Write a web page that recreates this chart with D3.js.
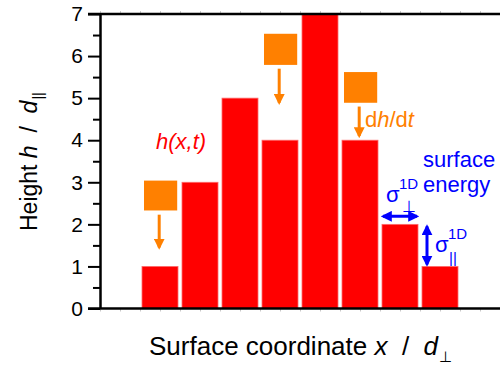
<!DOCTYPE html>
<html>
<head>
<meta charset="utf-8">
<script src="https://cdn.jsdelivr.net/npm/d3@7"></script>
<style>
  body { margin: 0; background: #fff; }
  text { font-family: "Liberation Sans", Arial, sans-serif; }
</style>
</head>
<body>
<div id="chart"></div>
<script>
// --------------------------------------
//  Data
// --------------------------------------

const positions = [1, 2, 3, 4, 5, 6, 7, 8];   // surface coordinate x (left edge of column)
const heights = [1, 3, 5, 4, 7, 4, 2, 1];     // height h
const yTicks = [0, 1, 2, 3, 4, 5, 6, 7];

// deposited blocks (orange) above columns 1, 4 and 6
const blockCols = [1, 4, 6];
const blockTops = [3.04, 6.53, 5.62];
const blockBottoms = [2.33, 5.79, 4.89];
const arrowFrom = [2.23, 5.70, 4.80];
const arrowTo = [1.45, 4.89, 4.10];

// --------------------------------------
//  Margin and canvas
// --------------------------------------

const width = 500;
const height = 367;
const margin = {top: 14, right: 0, bottom: 58, left: 100};

const svg = d3.select("#chart")
  .append("svg")
    .attr("width", width)
    .attr("height", height);

const x = d3.scaleLinear()
    .domain([0, 10])
    .range([margin.left, width - margin.right]);

const y = d3.scaleLinear()
    .domain([0, 7])
    .range([height - margin.bottom - 0.5, margin.top]);

const red = "#ff0000";
const orange = "#ff8000";
const blue = "#0000ff";

// --------------------------------------
//  Markers
// --------------------------------------

const defs = svg.append("defs");
function marker(id, color, size) {
  defs.append("marker")
      .attr("id", id)
      .attr("viewBox", "0 0 10 10")
      .attr("refX", 8)
      .attr("refY", 5)
      .attr("markerUnits", "userSpaceOnUse")
      .attr("markerWidth", size)
      .attr("markerHeight", size)
      .attr("orient", "auto-start-reverse")
    .append("path")
      .attr("d", "M0,0 L10,5 L0,10 Z")
      .attr("fill", color);
}
marker("headOrange", orange, 11);
marker("headBlue", blue, 11);

// --------------------------------------
//  Bars
// --------------------------------------

const bars = positions.map((p, i) => ({x: p, h: heights[i]}));

svg.selectAll(".bar")
  .data(bars)
  .join("rect")
    .attr("class", "bar")
    .attr("x", d => x(d.x) + 2)
    .attr("width", d => x(d.x + 1) - x(d.x) - 4)
    .attr("y", d => y(d.h))
    .attr("height", d => y(0) - y(d.h))
    .attr("fill", red)
    .attr("stroke", "#ff6a6a")
    .attr("stroke-width", 0.8);

// --------------------------------------
//  Axes
// --------------------------------------

// faint x ticks (top and bottom)
const xMinor = d3.range(0, 10.01, 0.5);
svg.append("g")
    .attr("transform", `translate(0, ${y(0)})`)
    .call(d3.axisBottom(x).tickValues(xMinor).tickSize(3).tickFormat(""))
    .call(g => g.select(".domain").remove())
    .call(g => g.selectAll("line").attr("stroke", "#c8c8c8"));
svg.append("g")
    .attr("transform", `translate(0, ${y(7)})`)
    .call(d3.axisTop(x).tickValues(xMinor).tickSize(3).tickFormat(""))
    .call(g => g.select(".domain").remove())
    .call(g => g.selectAll("line").attr("stroke", "#c8c8c8"));

svg.append("line")
    .attr("x1", x(0) - 12).attr("x2", width)
    .attr("y1", y(0)).attr("y2", y(0))
    .attr("stroke", "#000").attr("stroke-width", 2.5);
svg.append("line")
    .attr("x1", x(0) - 12).attr("x2", width)
    .attr("y1", y(7)).attr("y2", y(7))
    .attr("stroke", "#000").attr("stroke-width", 2.5);

// minor y ticks
svg.append("g")
    .attr("transform", `translate(${x(0)}, 0)`)
    .call(d3.axisLeft(y).tickValues(d3.range(0.5, 7, 1)).tickSize(7).tickFormat(""))
    .call(g => g.select(".domain").remove())
    .call(g => g.selectAll("line").attr("stroke-width", 2));

const yAxis = svg.append("g")
    .attr("transform", `translate(${x(0)}, 0)`)
    .call(d3.axisLeft(y)
          .tickValues(yTicks)
          .tickSize(12)
          .tickPadding(5)
          .tickFormat(d3.format("d"))
          .tickSizeOuter(0));
yAxis.select(".domain").attr("stroke-width", 2.5);
yAxis.selectAll("line").attr("stroke-width", 2);
yAxis.selectAll("text")
    .attr("font-size", 21)
    .attr("font-family", "Liberation Sans, Arial, sans-serif")
    .attr("fill", "#000");

// --------------------------------------
//  Axis titles
// --------------------------------------

const yTitle = svg.append("text")
    .attr("transform", `translate(37, 231) rotate(-90)`)
    .attr("font-size", 23)
    .attr("fill", "#000");
yTitle.append("tspan").text("Height ");
yTitle.append("tspan").attr("font-style", "italic").text("h");
yTitle.append("tspan").attr("xml:space", "preserve").text("  /  ");
yTitle.append("tspan").attr("font-style", "italic").text("d");
yTitle.append("tspan").attr("font-size", 14).attr("dy", 6).attr("dx", 1).text("||");

const xTitle = svg.append("text")
    .attr("x", 149)
    .attr("y", 355)
    .attr("font-size", 26)
    .attr("fill", "#000");
xTitle.append("tspan").text("Surface coordinate ");
xTitle.append("tspan").attr("font-style", "italic").text("x");
xTitle.append("tspan").attr("xml:space", "preserve").text("  /  ");
xTitle.append("tspan").attr("font-style", "italic").text("d");
xTitle.append("tspan").attr("font-size", 15).attr("dy", 7).attr("dx", 1).text("⊥");

// --------------------------------------
//  Deposited blocks and arrows
// --------------------------------------

const blocks = blockCols.map((c, i) => ({
  c: c, top: blockTops[i], bottom: blockBottoms[i], from: arrowFrom[i], to: arrowTo[i]
}));

svg.selectAll(".block")
  .data(blocks)
  .join("rect")
    .attr("class", "block")
    .attr("x", d => x(d.c + 0.1))
    .attr("width", d => x(d.c + 0.93) - x(d.c + 0.1))
    .attr("y", d => y(d.top))
    .attr("height", d => y(d.bottom) - y(d.top))
    .attr("fill", orange);

svg.selectAll(".drop")
  .data(blocks)
  .join("line")
    .attr("class", "drop")
    .attr("x1", d => x(d.c + 0.48))
    .attr("x2", d => x(d.c + 0.48))
    .attr("y1", d => y(d.from))
    .attr("y2", d => y(d.to))
    .attr("stroke", orange)
    .attr("stroke-width", 3)
    .attr("marker-end", "url(#headOrange)");

// --------------------------------------
//  Labels
// --------------------------------------

svg.append("text")
    .attr("x", 156).attr("y", 149)
    .attr("font-size", 22)
    .attr("font-style", "italic")
    .attr("fill", red)
    .text("h(x,t)");

const dhdt = svg.append("text")
    .attr("x", 365).attr("y", 127)
    .attr("font-size", 22)
    .attr("fill", orange);
dhdt.append("tspan").text("d");
dhdt.append("tspan").attr("font-style", "italic").text("h");
dhdt.append("tspan").text("/d");
dhdt.append("tspan").attr("font-style", "italic").text("t");

svg.append("text")
    .attr("x", 423).attr("y", 167)
    .attr("font-size", 22)
    .attr("fill", blue)
    .text("surface");
svg.append("text")
    .attr("x", 423).attr("y", 192)
    .attr("font-size", 22)
    .attr("fill", blue)
    .text("energy");

// sigma perpendicular
svg.append("text")
    .attr("x", 386).attr("y", 202)
    .attr("font-size", 22)
    .attr("fill", blue)
    .text("σ");
svg.append("text")
    .attr("x", 399).attr("y", 189)
    .attr("font-size", 15)
    .attr("fill", blue)
    .text("1D");
svg.append("text")
    .attr("x", 402).attr("y", 212)
    .attr("font-size", 16)
    .attr("fill", blue)
    .text("⊥");

svg.append("line")
    .attr("x1", x(7) + 3).attr("x2", x(8) - 3)
    .attr("y1", y(2) - 8).attr("y2", y(2) - 8)
    .attr("stroke", blue).attr("stroke-width", 3)
    .attr("marker-start", "url(#headBlue)")
    .attr("marker-end", "url(#headBlue)");

// sigma parallel
svg.append("text")
    .attr("x", 435).attr("y", 252)
    .attr("font-size", 22)
    .attr("fill", blue)
    .text("σ");
svg.append("text")
    .attr("x", 448).attr("y", 239)
    .attr("font-size", 15)
    .attr("fill", blue)
    .text("1D");
svg.append("text")
    .attr("x", 449).attr("y", 263)
    .attr("font-size", 15)
    .attr("fill", blue)
    .text("||");

svg.append("line")
    .attr("x1", x(8) + 7).attr("x2", x(8) + 7)
    .attr("y1", y(2) + 2).attr("y2", y(1) - 2)
    .attr("stroke", blue).attr("stroke-width", 3)
    .attr("marker-start", "url(#headBlue)")
    .attr("marker-end", "url(#headBlue)");
</script>
</body>
</html>
